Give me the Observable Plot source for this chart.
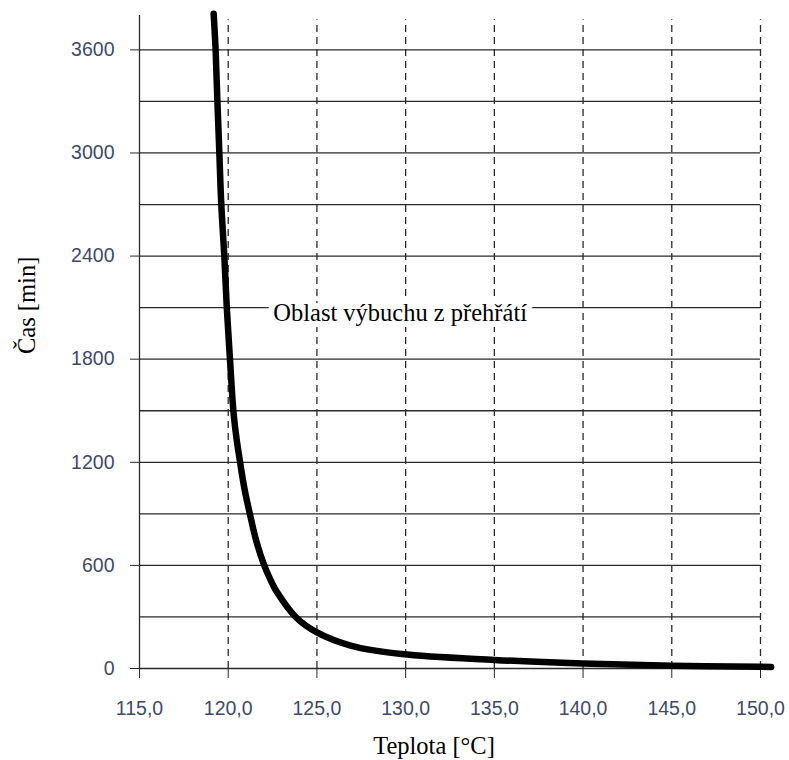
<!DOCTYPE html>
<html>
<head>
<meta charset="utf-8">
<script src="https://cdn.jsdelivr.net/npm/d3@7"></script>
<script src="https://cdn.jsdelivr.net/npm/@observablehq/plot@0.6"></script>
<style>
  html, body { margin: 0; padding: 0; background: #fff; }
  #chart g[aria-label$="tick label"], #chart g[aria-label$="tick label"] text { font-size: 19.5px !important; }
</style>
</head>
<body>
<div id="chart"></div>
<script>
// Curve: temperature [°C] vs time [min]
const temperature = [119.18, 119.29, 119.39, 119.50, 119.61, 119.78, 119.92, 120.10, 120.29, 120.46, 120.67, 120.92, 121.22, 121.58, 122.03, 122.50, 122.70, 123.8, 125.0, 126.95, 129.78, 135.0, 140.0, 145.0, 150.0, 150.6];
const time        = [3810,   3600,   3300,   3000,   2700,   2400,   2100,   1800,   1500,   1345,   1200,   1044,   900,    743,    600,    491,    452,    300,   210,   132,    84,     50,    29,    16,    10,    9];

const xTicks = [115, 120, 125, 130, 135, 140, 145, 150];
const xDashed = [120, 125, 130, 135, 140, 145, 150];
const yTicks = [0, 600, 1200, 1800, 2400, 3000, 3600];
const yGrid = [0, 300, 600, 900, 1200, 1500, 1800, 2100, 2400, 2700, 3000, 3300, 3600];

const xTitle = "Teplota [°C]";
const yTitle = "Čas [min]";
const regionLabel = "Oblast výbuchu z přehřátí";

const curve = temperature.map((t, i) => ({t, m: time[i]}));
const serif = "'Liberation Serif', 'Times New Roman', serif";
const sans = "'Liberation Sans', Arial, sans-serif";
const tickColor = "#3d4a6a";
const lineColor = "#2a2a2a";

const chart = Plot.plot({
  width: 789,
  height: 760,
  marginLeft: 139,
  marginRight: 29,
  marginTop: 15,
  marginBottom: 92,
  x: {domain: [115, 150]},
  y: {domain: [0, 3800]},
  style: {fontFamily: sans, fontSize: "19px", background: "#fff"},
  marks: [
    Plot.gridY(yGrid, {stroke: lineColor, strokeOpacity: 1, strokeWidth: 1.3}),
    Plot.ruleX(xDashed, {y1: 0, y2: 3775, stroke: lineColor, strokeWidth: 1.3, strokeDasharray: "7,5"}),
    Plot.ruleX([115], {y1: 0, y2: 3800, stroke: lineColor, strokeWidth: 1.3}),
    Plot.axisX(xTicks, {tickSize: 10, tickPadding: 23, stroke: lineColor, fill: tickColor, label: null,
      fontSize: 19.5, fontFamily: sans, tickFormat: d => d.toFixed(1).replace(".", ",")}),
    Plot.axisY(yTicks, {tickSize: 9, tickPadding: 16, stroke: lineColor, fill: tickColor, label: null,
      fontSize: 19.5, fontFamily: sans, tickFormat: d => String(d)}),
    Plot.line(curve, {x: "t", y: "m", curve: "catmull-rom", stroke: "#000", strokeWidth: 6.5, strokeLinecap: "round"}),
    Plot.text([regionLabel], {x: 129.69, y: 2065, text: d => d, fontFamily: serif, fontSize: 24.5,
      fill: "#000", stroke: "#fff", strokeWidth: 12, lineAnchor: "middle"}),
    Plot.text([xTitle], {frameAnchor: "bottom", text: d => d, dx: -16, dy: 78, lineAnchor: "middle",
      fontFamily: serif, fontSize: 24.5, fill: "#000"}),
    Plot.text([yTitle], {frameAnchor: "left", text: d => d, dx: -112, dy: 12, rotate: -90, lineAnchor: "middle",
      fontFamily: serif, fontSize: 24.5, fill: "#000"})
  ]
});
document.getElementById("chart").appendChild(chart);
</script>
</body>
</html>
